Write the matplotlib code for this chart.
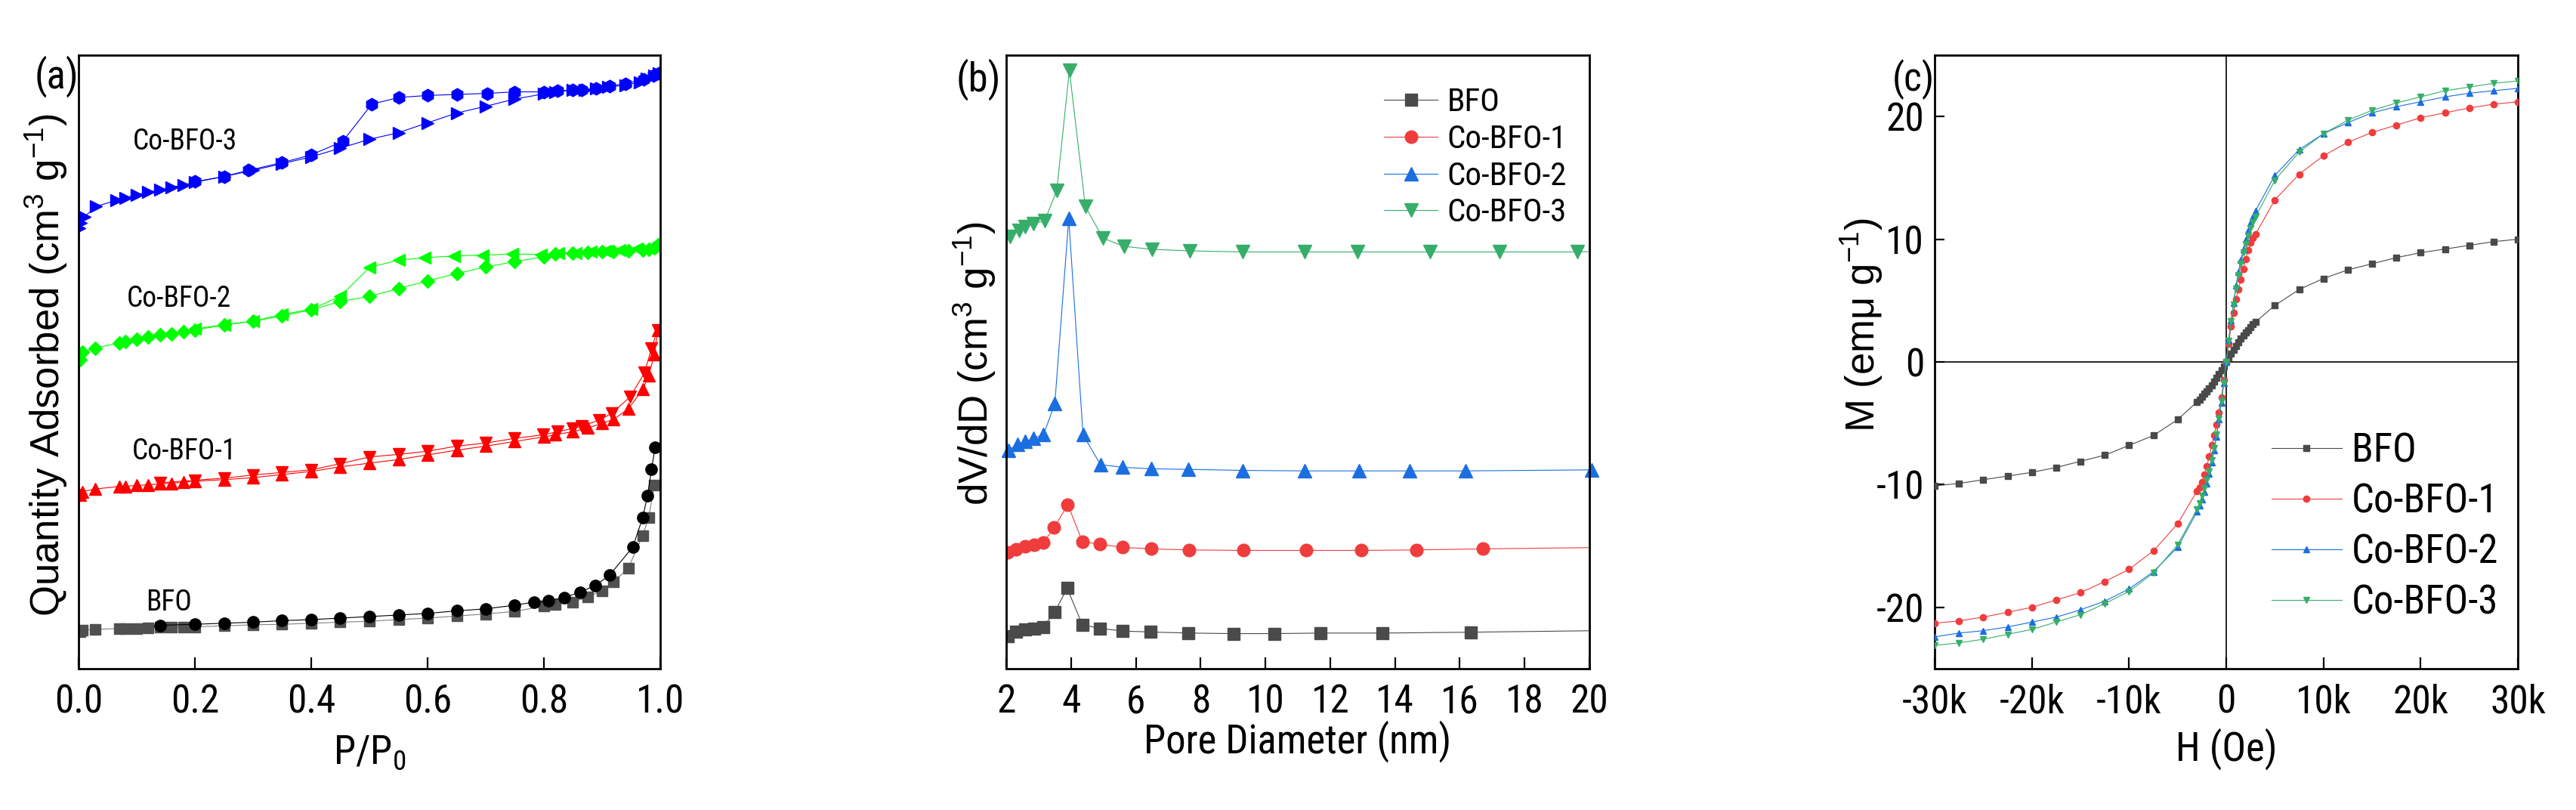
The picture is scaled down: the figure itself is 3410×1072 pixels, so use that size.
import matplotlib
matplotlib.use("Agg")
import matplotlib.pyplot as plt
from matplotlib import font_manager as fm

# pick a narrow Arial-like font if one is installed
NARROW_CANDIDATES = ['Liberation Sans Narrow', 'Arial Narrow', 'Roboto Condensed', 'Archivo Narrow',
                     'PT Sans Narrow', 'Fira Sans Condensed', 'Pragati Narrow', 'Liberation Sans']
installed = {f.name for f in fm.fontManager.ttflist}
NARROW = next((n for n in NARROW_CANDIDATES if n in installed), 'DejaVu Sans')
plt.rcParams['font.family'] = [NARROW, 'Liberation Sans', 'DejaVu Sans']
plt.rcParams['mathtext.default'] = 'regular'

# ---------------- Panel (a): N2 isotherms (arbitrary offset units) ----------------
p_ads = [0.002, 0.007, 0.029, 0.07, 0.08, 0.1, 0.12, 0.14, 0.16, 0.18, 0.2, 0.25, 0.3,
         0.35, 0.4, 0.45, 0.5, 0.55, 0.6, 0.65, 0.7, 0.75, 0.8, 0.82, 0.85, 0.875, 0.9,
         0.92, 0.945, 0.97, 0.98, 0.99, 0.996]
bfo_ads = [5.98, 6.31, 6.40, 6.57, 6.57, 6.57, 6.65, 6.73, 6.82, 6.82, 6.82, 6.99, 7.15,
           7.24, 7.41, 7.58, 7.74, 8.00, 8.25, 8.59, 8.92, 9.34, 10.19, 10.44, 10.86, 11.70,
           12.71, 14.14, 16.41, 21.72, 24.66, 29.88]
p_bfo_des = [0.991, 0.985, 0.978, 0.97, 0.953, 0.913, 0.888, 0.862, 0.835, 0.808, 0.783,
             0.75, 0.7, 0.65, 0.6, 0.55, 0.5, 0.45, 0.4, 0.35, 0.3, 0.25, 0.2, 0.14]
bfo_des = [36.03, 32.49, 28.20, 24.66, 19.87, 15.24, 13.55, 12.46, 11.62, 11.11, 10.86,
           10.35, 9.76, 9.43, 9.01, 8.75, 8.50, 8.25, 8.00, 7.83, 7.58, 7.41, 7.24, 7.07]

cb1_ads = [28.28, 28.87, 29.29, 29.71, 29.71, 29.88, 29.97, 30.13, 30.22, 30.39, 30.56,
           30.81, 31.14, 31.65, 32.15, 32.91, 33.50, 34.09, 34.85, 35.61, 36.28, 37.04,
           37.79, 38.13, 38.64, 39.23, 39.98, 40.66, 42.34, 45.54, 47.81, 51.18, 55.22]
p_cb1_des = [0.996, 0.985, 0.973, 0.948, 0.917, 0.895, 0.865, 0.849, 0.824, 0.799, 0.75,
             0.7, 0.65, 0.6, 0.55, 0.5, 0.45, 0.4, 0.35, 0.3, 0.25, 0.2, 0.14]
cb1_des = [55.22, 52.27, 48.23, 44.28, 41.67, 40.49, 39.56, 39.14, 38.64, 38.13, 37.54,
           36.78, 36.28, 35.44, 34.93, 34.51, 33.42, 32.41, 31.99, 31.57, 31.06, 30.72, 30.30]

cb2_ads = [50.34, 51.60, 52.27, 53.11, 53.28, 53.70, 54.12, 54.38, 54.55, 54.97, 55.22,
           55.98, 56.65, 57.49, 58.50, 59.85, 60.69, 61.95, 63.22, 64.39, 65.49, 66.33,
           67.17, 67.59, 67.76, 67.85, 67.93, 68.01, 68.10, 68.27, 68.35, 68.60, 69.11]
p_cb2_des = [0.996, 0.985, 0.96, 0.93, 0.905, 0.88, 0.855, 0.825, 0.795, 0.745, 0.695,
             0.645, 0.595, 0.55, 0.5, 0.45, 0.4, 0.35, 0.3, 0.25, 0.2]
cb2_des = [69.11, 68.77, 68.43, 68.18, 68.10, 67.93, 67.76, 67.68, 67.51, 67.59, 67.42,
           67.26, 67.00, 66.58, 65.40, 60.69, 58.59, 57.74, 56.65, 56.06, 55.39]

p_cb3_ads = [0.001, 0.004, 0.01, 0.03, 0.065, 0.08, 0.1, 0.12, 0.14, 0.16, 0.18, 0.2, 0.25,
             0.3, 0.35, 0.4, 0.45, 0.5, 0.55, 0.6, 0.65, 0.7, 0.75, 0.8, 0.82, 0.85, 0.87,
             0.89, 0.91, 0.94, 0.965, 0.977, 0.99, 0.998]
cb3_ads = [71.80, 72.64, 73.65, 75.34, 76.35, 76.77, 77.27, 77.69, 78.03, 78.45, 78.87,
           79.29, 80.22, 81.23, 82.32, 83.42, 84.85, 86.28, 87.37, 88.97, 90.57, 91.67,
           92.85, 93.69, 94.02, 94.28, 94.36, 94.53, 94.78, 95.12, 95.62, 96.21, 96.72, 97.05]
p_cb3_des = [0.998, 0.988, 0.972, 0.94, 0.913, 0.89, 0.865, 0.849, 0.824, 0.8, 0.75, 0.702,
             0.65, 0.6, 0.55, 0.504, 0.454, 0.4, 0.35, 0.292, 0.25, 0.2]
cb3_des = [97.05, 96.63, 96.04, 95.37, 94.95, 94.53, 94.36, 94.28, 94.19, 94.02, 94.02,
           93.77, 93.60, 93.43, 93.10, 92.00, 85.94, 83.75, 82.49, 81.23, 80.22, 79.38]

iso_labels = ["Co-BFO-3", "Co-BFO-2", "Co-BFO-1", "BFO"]
iso_label_pos = [(0.183, 85.9), (0.173, 60.3), (0.182, 35.4), (0.155, 10.8)]

# ---------------- Panel (b): pore size distribution (offset units) ----------------
d_bfo = [2.05, 2.31, 2.59, 2.86, 3.14, 3.50, 3.88, 4.35, 4.89, 5.60, 6.46, 7.63, 9.01,
         10.27, 11.71, 13.62, 16.34, 21.0]
v_bfo = [5.30, 5.98, 6.40, 6.57, 6.82, 9.26, 13.13, 7.15, 6.57, 6.14, 5.98, 5.81, 5.72,
         5.72, 5.81, 5.81, 5.95, 6.25]
d_cb1 = [2.05, 2.31, 2.59, 2.86, 3.14, 3.48, 3.90, 4.35, 4.89, 5.60, 6.47, 7.64, 9.32,
         11.26, 12.95, 14.65, 16.72, 21.0]
v_cb1 = [18.94, 19.44, 19.95, 20.20, 20.54, 22.98, 26.77, 20.71, 20.29, 19.78, 19.53,
         19.36, 19.28, 19.28, 19.28, 19.36, 19.53, 19.80]
d_cb2 = [2.07, 2.36, 2.59, 2.83, 3.15, 3.50, 3.93, 4.37, 4.91, 5.60, 6.47, 7.63, 9.29,
         11.20, 12.88, 14.45, 16.17, 20.08]
v_cb2 = [35.61, 36.62, 37.04, 37.54, 38.13, 43.18, 73.35, 38.13, 33.25, 32.83, 32.58,
         32.49, 32.32, 32.24, 32.24, 32.24, 32.24, 32.41]
d_cb3 = [2.12, 2.40, 2.58, 2.84, 3.19, 3.56, 3.95, 4.44, 4.98, 5.63, 6.49, 7.67, 9.29,
         11.20, 12.85, 15.07, 17.23, 19.63, 21.0]
v_cb3 = [70.44, 71.43, 72.04, 72.54, 73.03, 77.96, 97.54, 75.37, 70.20, 68.84, 68.35,
         68.10, 67.93, 67.93, 67.93, 67.93, 67.93, 67.93, 68.10]

# ---------------- Panel (c): M-H loops ----------------
H = [-30000, -27500, -25000, -22500, -20000, -17500, -15000, -12500, -10000, -7500, -5000,
     -3000, -2750, -2500, -2250, -2000, -1750, -1500, -1250, -1000, -750, -500, -250, 0,
     250, 500, 750, 1000, 1250, 1500, 1750, 2000, 2250, 2500, 2750, 3000,
     5000, 7500, 10000, 12500, 15000, 17500, 20000, 22500, 25000, 27500, 30000]
m_bfo = [-10.1, -9.9, -9.6, -9.3, -9.0, -8.6, -8.1, -7.6, -6.8, -6.0, -4.7,
         -3.25, -3.05, -2.85, -2.6, -2.4, -2.15, -1.9, -1.6, -1.3, -1.0, -0.7, -0.35, 0.0,
         0.35, 0.7, 1.0, 1.3, 1.6, 1.9, 2.15, 2.4, 2.6, 2.85, 3.05, 3.25,
         4.6, 5.9, 6.8, 7.5, 8.0, 8.5, 8.9, 9.2, 9.5, 9.8, 10.0]
m_cb1 = [-21.3, -21.1, -20.8, -20.4, -20.0, -19.4, -18.8, -17.9, -16.9, -15.4, -13.2,
         -10.5, -10.2, -9.8, -9.2, -8.5, -7.7, -6.8, -6.0, -5.1, -4.1, -2.9, -1.5, 0.0,
         1.5, 2.9, 4.0, 5.1, 5.9, 6.7, 7.6, 8.4, 9.1, 9.7, 10.1, 10.4,
         13.2, 15.3, 16.8, 17.9, 18.7, 19.3, 19.9, 20.3, 20.7, 21.0, 21.2]
m_cb2 = [-22.4, -22.1, -21.9, -21.6, -21.2, -20.8, -20.2, -19.5, -18.5, -17.1, -15.1,
         -12.2, -11.7, -11.2, -10.6, -9.9, -9.1, -8.2, -7.2, -6.1, -4.7, -3.3, -1.7, 0.0,
         1.8, 3.4, 4.8, 6.2, 7.3, 8.3, 9.2, 10.0, 10.7, 11.3, 11.8, 12.3,
         15.2, 17.3, 18.6, 19.5, 20.3, 20.8, 21.2, 21.6, 21.9, 22.1, 22.3]
m_cb3 = [-23.1, -22.9, -22.6, -22.2, -21.8, -21.2, -20.6, -19.7, -18.7, -17.2, -14.9,
         -12.0, -11.5, -10.9, -10.3, -9.6, -8.9, -8.0, -7.0, -5.9, -4.6, -3.2, -1.7, 0.0,
         1.7, 3.3, 4.7, 6.0, 7.1, 8.0, 8.9, 9.6, 10.3, 10.9, 11.4, 11.8,
         14.8, 17.1, 18.6, 19.7, 20.5, 21.1, 21.6, 22.1, 22.4, 22.7, 22.9]

series_names = ["BFO", "Co-BFO-1", "Co-BFO-2", "Co-BFO-3"]
h_ticks = [-30000, -20000, -10000, 0, 10000, 20000, 30000]
h_ticklabels = ["-30k", "-20k", "-10k", "0", "10k", "20k", "30k"]
m_ticks = [-20, -10, 0, 10, 20]
m_ticklabels = ["-20", "-10", "0", "10", "20"]
p_ticks = [0.0, 0.2, 0.4, 0.6, 0.8, 1.0]
p_ticklabels = ["0.0", "0.2", "0.4", "0.6", "0.8", "1.0"]
d_ticks = [2, 4, 6, 8, 10, 12, 14, 16, 18, 20]

# ---------------- Figure ----------------
W, Hh = 3410, 1072
fig = plt.figure(figsize=(W / 100, Hh / 100), dpi=100)

def px_axes(left, right, top, bottom):
    return fig.add_axes([left / W, 1 - bottom / Hh, (right - left) / W, (bottom - top) / Hh])

axa = px_axes(104, 874, 73, 885)
axb = px_axes(1332, 2104, 73, 885)
axc = px_axes(2561, 3333, 73, 885)

TICK_FS = 37
LABEL_FS = 38
YLAB_FONT = ['Liberation Sans', 'DejaVu Sans']

for ax in (axa, axb, axc):
    for s in ax.spines.values():
        s.set_linewidth(2.0)
    ax.tick_params(direction='in', length=11, width=1.6, labelsize=TICK_FS, pad=14,
                   top=False, right=False)

# Panel a
lw = 0.8
axa.plot(p_ads[:len(bfo_ads)], bfo_ads, color='#808080', lw=lw, marker='s', ms=10,
         mfc='#505050', mec='#505050')
axa.plot(p_bfo_des, bfo_des, color='black', lw=lw, marker='o', ms=11, mfc='black', mec='black')
axa.plot(p_ads, cb1_ads, color='red', lw=lw, marker='^', ms=12, mfc='red', mec='red')
axa.plot(p_cb1_des, cb1_des, color='red', lw=lw, marker='v', ms=12, mfc='red', mec='red')
axa.plot(p_ads, cb2_ads, color='#00ff00', lw=lw, marker='D', ms=9, mfc='#00ff00', mec='#00ff00')
axa.plot(p_cb2_des, cb2_des, color='#00ff00', lw=lw, marker='<', ms=12, mfc='#00ff00', mec='#00ff00')
axa.plot(p_cb3_ads, cb3_ads, color='#0000ff', lw=lw, marker='>', ms=12, mfc='#0000ff', mec='#0000ff')
axa.plot(p_cb3_des, cb3_des, color='#0000ff', lw=lw, marker='h', ms=12, mfc='#0000ff', mec='#0000ff')
axa.set_xlim(0, 1)
axa.set_ylim(0, 100)
axa.set_xticks(p_ticks)
axa.set_xticklabels(p_ticklabels)
axa.set_yticks([])
for lab, (x, y) in zip(iso_labels, iso_label_pos):
    axa.text(x, y, lab, fontsize=27, ha='center', va='center')
axa.set_xlabel(r'P/P$_0$', fontsize=LABEL_FS)
axa.xaxis.set_label_coords(0.5, -0.105)
axa.set_ylabel(r'Quantity Adsorbed (cm$^3$ g$^{-1}$)', fontsize=LABEL_FS, family=YLAB_FONT)
axa.yaxis.set_label_coords(-0.016, 0.495)
axa.text(-0.038, 0.965, '(a)', transform=axa.transAxes, fontsize=38, ha='center', va='center')

# Panel b
cols = ['#4a4a4a', '#f03c3c', '#1a6ee0', '#36ae6a']
mk = ['s', 'o', '^', 'v']
msz = [11, 12, 13, 13]
for d, v, c, m, s, n in zip([d_bfo, d_cb1, d_cb2, d_cb3], [v_bfo, v_cb1, v_cb2, v_cb3],
                            cols, mk, msz, series_names):
    ln, = axb.plot(d, v, color=c, lw=0.8, marker=m, ms=s, mfc=c, mec=c, label=n)
    if n == "Co-BFO-2":
        ln.set_clip_on(False)
axb.set_xlim(2, 20)
axb.set_ylim(0, 100)
axb.set_xticks(d_ticks)
axb.set_yticks([])
axb.set_xlabel('Pore Diameter (nm)', fontsize=LABEL_FS)
axb.xaxis.set_label_coords(0.5, -0.084)
axb.set_ylabel(r'dV/dD (cm$^3$ g$^{-1}$)', fontsize=LABEL_FS, family=YLAB_FONT)
axb.yaxis.set_label_coords(-0.014, 0.497)
axb.text(-0.048, 0.96, '(b)', transform=axb.transAxes, fontsize=38, ha='center', va='center')
axb.legend(loc='upper left', bbox_to_anchor=(0.648, 0.948), frameon=False, fontsize=31,
           handlelength=1.65, handletextpad=0.28, labelspacing=0.18, borderpad=0,
           borderaxespad=0)

# Panel c
axc.axhline(0, color='black', lw=1.2, zorder=1)
axc.axvline(0, color='black', lw=1.2, zorder=1)
mkc = ['s', 'o', '^', 'v']
for m_, c, m, n in zip([m_bfo, m_cb1, m_cb2, m_cb3], cols, mkc, series_names):
    axc.plot(H, m_, color=c, lw=0.8, marker=m, ms=6, mfc=c, mec=c, label=n, zorder=3)
axc.set_xlim(-30000, 30000)
axc.set_ylim(-25, 25)
axc.set_xticks(h_ticks)
axc.set_xticklabels(h_ticklabels)
axc.set_yticks(m_ticks)
axc.set_yticklabels(m_ticklabels)
axc.tick_params(axis='y', length=9, pad=10)
axc.set_xlabel('H (Oe)', fontsize=LABEL_FS)
axc.xaxis.set_label_coords(0.5, -0.096)
axc.set_ylabel(r'M (emμ g$^{-1}$)', fontsize=LABEL_FS, family=YLAB_FONT)
axc.yaxis.set_label_coords(-0.086, 0.56)
axc.text(-0.036, 0.96, '(c)', transform=axc.transAxes, fontsize=37, ha='center', va='center')
axc.legend(loc='upper left', bbox_to_anchor=(0.578, 0.386), frameon=False, fontsize=38,
           handlelength=1.75, handletextpad=0.25, labelspacing=0.3, borderpad=0,
           borderaxespad=0)

fig.savefig('out.png', dpi=100)
